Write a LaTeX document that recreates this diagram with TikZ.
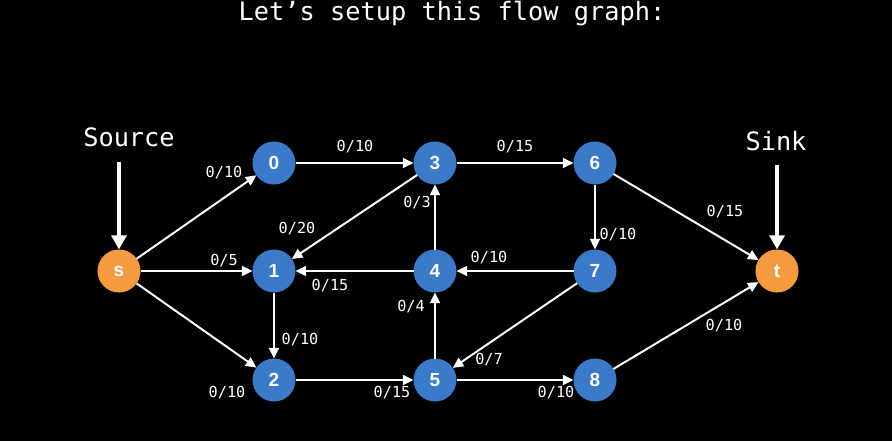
\documentclass[tikz,border=0pt]{standalone}
\usepackage{fontspec}
\usetikzlibrary{arrows.meta}
\newfontfamily\monofont{DejaVu Sans Mono}
\newfontfamily\numfont{Liberation Sans}
\definecolor{vtxblue}{RGB}{58,122,200}
\definecolor{vtxorange}{RGB}{244,154,64}
\tikzset{
  vtx/.style={circle,fill=vtxblue,minimum size=1.075cm,inner sep=0pt,outer sep=0pt,
    text=white,font=\numfont\bfseries\fontsize{13.5}{14}\selectfont},
  term/.style={vtx,fill=vtxorange},
  flowedge/.style={draw=white,line width=1.4pt,-{Triangle[length=7.5pt,width=7pt]}},
  bigarrow/.style={draw=white,line width=2.8pt,-{Triangle[length=10pt,width=10.5pt]}},
  flowlbl/.style={text=white,inner sep=0pt,font=\monofont\fontsize{10.8}{12}\selectfont},
  heading/.style={text=white,inner sep=0pt,font=\monofont\fontsize{18}{20}\selectfont}
}
\begin{document}
\begin{tikzpicture}[x=0.025cm,y=-0.025cm]
\fill[black] (0,0) rectangle (892,441);
\node[heading] (title) at (452,14) {Let’s setup this flow graph:};
\node[term] (s) at (119,271) {s};
\node[vtx] (v0) at (274,163) {0};
\node[vtx] (v1) at (274,271) {1};
\node[vtx] (v2) at (274,380) {2};
\node[vtx] (v3) at (435,163) {3};
\node[vtx] (v4) at (435,271) {4};
\node[vtx] (v5) at (435,380) {5};
\node[vtx] (v6) at (595,163) {6};
\node[vtx] (v7) at (595,271) {7};
\node[vtx] (v8) at (595,380) {8};
\node[term] (t) at (777,271) {t};
% source and sink markers
\node[heading] (source) at (129,137) {Source};
\node[heading] (sink) at (776,141) {Sink};
\coordinate (sarr) at (119,162);
\coordinate (tarr) at (777,165);
\draw[bigarrow] (sarr) -- (s);
\draw[bigarrow] (tarr) -- (t);
% edges
\draw[flowedge] (s) -- (v0);
\draw[flowedge] (s) -- (v1);
\draw[flowedge] (s) -- (v2);
\draw[flowedge] (v0) -- (v3);
\draw[flowedge] (v1) -- (v2);
\draw[flowedge] (v2) -- (v5);
\draw[flowedge] (v3) -- (v1);
\draw[flowedge] (v3) -- (v6);
\draw[flowedge] (v4) -- (v1);
\draw[flowedge] (v4) -- (v3);
\draw[flowedge] (v5) -- (v4);
\draw[flowedge] (v5) -- (v8);
\draw[flowedge] (v6) -- (v7);
\draw[flowedge] (v6) -- (t);
\draw[flowedge] (v7) -- (v4);
\draw[flowedge] (v7) -- (v5);
\draw[flowedge] (v8) -- (t);
% flow/capacity
\node[flowlbl] (ls0) at (224,173) {0/10};
\node[flowlbl] (ls1) at (224,261) {0/5};
\node[flowlbl] (ls2) at (227,393) {0/10};
\node[flowlbl] (l03) at (355,147) {0/10};
\node[flowlbl] (l12) at (300,340) {0/10};
\node[flowlbl] (l25) at (392,393) {0/15};
\node[flowlbl] (l31) at (297,229) {0/20};
\node[flowlbl] (l36) at (515,147) {0/15};
\node[flowlbl] (l41) at (330,286) {0/15};
\node[flowlbl] (l43) at (417,203) {0/3};
\node[flowlbl] (l54) at (411,307) {0/4};
\node[flowlbl] (l58) at (556,393) {0/10};
\node[flowlbl] (l67) at (618,235) {0/10};
\node[flowlbl] (l6t) at (725,212) {0/15};
\node[flowlbl] (l74) at (489,258) {0/10};
\node[flowlbl] (l75) at (489,360) {0/7};
\node[flowlbl] (l8t) at (724,326) {0/10};
\end{tikzpicture}
\end{document}
